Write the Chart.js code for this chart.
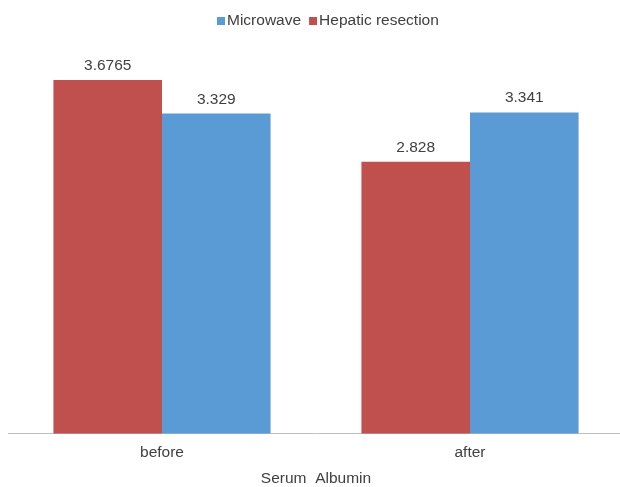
<!DOCTYPE html>
<html>
<head>
<meta charset="utf-8">
<script src="https://cdn.jsdelivr.net/npm/chart.js@4/dist/chart.umd.min.js"></script>
<style>
  html, body { margin: 0; padding: 0; background: #fff; overflow: hidden; }
  #wrap { width: 624px; height: 487px; }
</style>
</head>
<body>
<div id="wrap"><canvas id="c"></canvas></div>
<script>
const categories = ['before', 'after'];
const hepaticResection = [3.6765, 2.828];
const microwave = [3.329, 3.341];
const valueLabels = {
  hepatic: ['3.6765', '2.828'],
  microwave: ['3.329', '3.341']
};

const FONT = "'Liberation Sans', Arial, sans-serif";
const FONT_SIZE = 15.5;
const TEXT = '#404040';

// draws each bar's value just above its top
const barValues = {
  id: 'barValues',
  afterDatasetsDraw(chart) {
    const ctx = chart.ctx;
    ctx.save();
    ctx.font = FONT_SIZE + 'px ' + FONT;
    ctx.fillStyle = TEXT;
    ctx.textAlign = 'center';
    ctx.textBaseline = 'alphabetic';
    chart.data.datasets.forEach((ds, i) => {
      chart.getDatasetMeta(i).data.forEach((bar, j) => {
        ctx.fillText(ds.valueText[j], bar.x, bar.y - 10);
      });
    });
    ctx.restore();
  }
};

// compact legend row: small square, tight gap, label; series listed last-first
const topLegend = {
  id: 'topLegend',
  afterDraw(chart) {
    const ctx = chart.ctx;
    ctx.save();
    ctx.font = FONT_SIZE + 'px ' + FONT;
    ctx.textBaseline = 'alphabetic';
    ctx.textAlign = 'left';
    let x = 217;
    const box = 8, boxTop = 17, baseline = 25;
    chart.data.datasets.slice().reverse().forEach(ds => {
      ctx.fillStyle = ds.backgroundColor;
      ctx.fillRect(x, boxTop, box, box);
      x += box + 2;
      ctx.fillStyle = TEXT;
      ctx.fillText(ds.label, x, baseline);
      x += ctx.measureText(ds.label).width + 8;
    });
    ctx.restore();
  }
};

new Chart(document.getElementById('c'), {
  type: 'bar',
  data: {
    labels: categories,
    datasets: [
      { label: 'Hepatic resection', data: hepaticResection, valueText: valueLabels.hepatic,
        backgroundColor: '#C0504D', barPercentage: 1, categoryPercentage: 0.705 },
      { label: 'Microwave', data: microwave, valueText: valueLabels.microwave,
        backgroundColor: '#5B9BD5', barPercentage: 1, categoryPercentage: 0.705 }
    ]
  },
  options: {
    responsive: true,
    maintainAspectRatio: false,
    animation: false,
    layout: { padding: { left: 8, right: 0, top: 49, bottom: -1 } },
    plugins: {
      legend: { display: false },
      tooltip: { enabled: false }
    },
    scales: {
      x: {
        grid: { display: false, drawTicks: false },
        border: { color: '#bfbfbf', width: 1 },
        ticks: { color: TEXT, font: { family: FONT, size: FONT_SIZE }, padding: 10 },
        title: { display: true, text: 'Serum  Albumin', color: TEXT,
                 font: { family: FONT, size: FONT_SIZE }, padding: { top: -3, bottom: 0 } }
      },
      y: {
        display: false,
        min: 0, max: 4
      }
    }
  },
  plugins: [barValues, topLegend]
});
</script>
</body>
</html>
